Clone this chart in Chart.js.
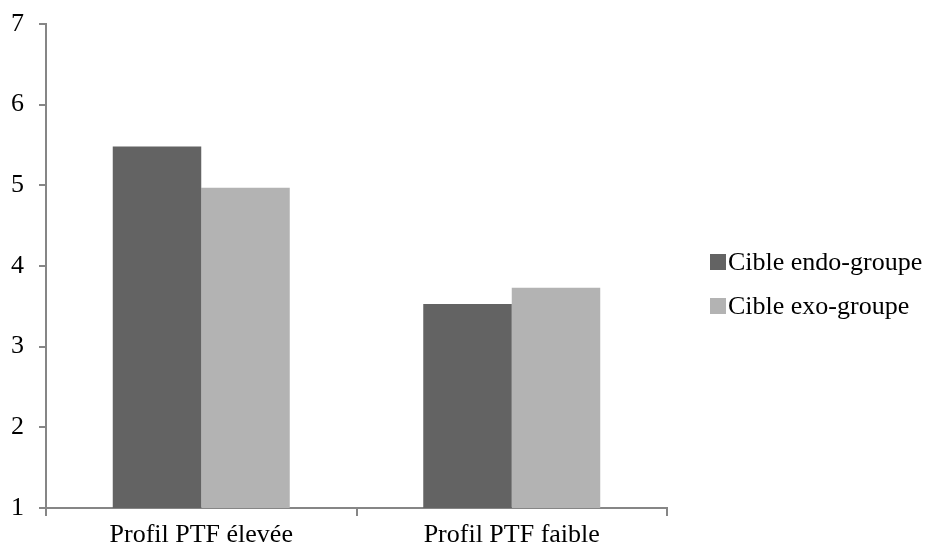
<!DOCTYPE html>
<html>
<head>
<meta charset="utf-8">
<script src="https://cdn.jsdelivr.net/npm/chart.js@4"></script>
<style>
  html, body { margin: 0; padding: 0; background: #fff; }
  #wrap { width: 930px; height: 549px; }
</style>
</head>
<body>
<div id="wrap"><canvas id="barChart"></canvas></div>
<script>
const categories = ["Profil PTF élevée", "Profil PTF faible"];
const endoValues = [5.48, 3.53];
const exoValues = [4.97, 3.73];
const seriesNames = ["Cible endo-groupe", "Cible exo-groupe"];

const axisColor = "#868686";
const fontFamily = "'Liberation Serif', 'Times New Roman', serif";
const font = { family: fontFamily, size: 26, lineHeight: 1 };

// legend drawn by hand so the box/text gap matches the original
const sideLegend = {
  id: "sideLegend",
  afterDraw(chart) {
    const c = chart.ctx;
    const x = chart.chartArea.right + 43;
    const midY = 284;
    const step = 44;
    const sets = chart.data.datasets;
    c.save();
    c.font = font.size + "px " + fontFamily;
    c.textBaseline = "middle";
    sets.forEach((ds, i) => {
      const y = midY + (i - (sets.length - 1) / 2) * step;
      c.fillStyle = ds.backgroundColor;
      c.fillRect(x, y - 8, 16, 16);
      c.fillStyle = "#000";
      c.fillText(ds.label, x + 18, y + 1);
    });
    c.restore();
  }
};

const ctx = document.getElementById("barChart").getContext("2d");

new Chart(ctx, {
  type: "bar",
  data: {
    labels: categories,
    datasets: [{
      label: seriesNames[0],
      data: endoValues,
      backgroundColor: "#636363",
      borderWidth: 0
    }, {
      label: seriesNames[1],
      data: exoValues,
      backgroundColor: "#b3b3b3",
      borderWidth: 0
    }]
  },
  options: {
    responsive: true,
    maintainAspectRatio: false,
    animation: false,
    layout: {
      padding: { left: 11, top: 24, right: 263, bottom: 2 }
    },
    datasets: {
      bar: { categoryPercentage: 0.57, barPercentage: 1 }
    },
    plugins: {
      tooltip: { enabled: false },
      legend: { display: false }
    },
    scales: {
      x: {
        afterFit(scale) { scale.height = 39; },
        grid: {
          drawOnChartArea: false,
          color: axisColor,
          tickLength: 8,
          lineWidth: 2
        },
        border: { color: axisColor, width: 2 },
        ticks: { color: "#000", font: font, padding: 6 }
      },
      y: {
        min: 1,
        max: 7,
        afterFit(scale) {
          scale.width = 35;
          scale.paddingTop = 0;
          scale.paddingBottom = 0;
        },
        grid: {
          drawOnChartArea: false,
          color: axisColor,
          tickLength: 7,
          lineWidth: 2
        },
        border: { color: axisColor, width: 2 },
        ticks: { color: "#000", font: font, stepSize: 1, padding: 15 }
      }
    }
  },
  plugins: [sideLegend]
});
</script>
</body>
</html>
